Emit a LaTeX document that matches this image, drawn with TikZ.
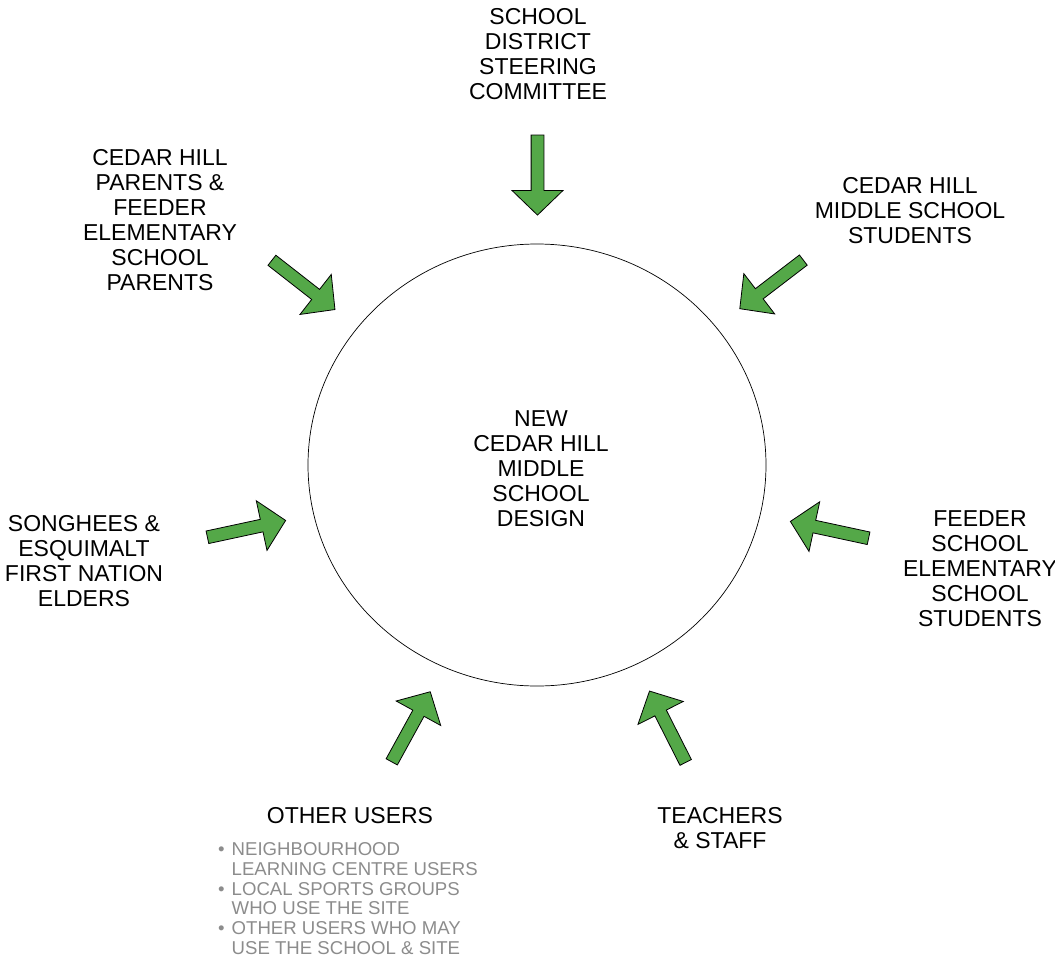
\documentclass[tikz,border=0pt]{standalone}
\usepackage{fontspec}
\setmainfont{Liberation Sans}
\usetikzlibrary{shapes.arrows,calc}
\definecolor{arrowgreen}{RGB}{84,168,72}
\definecolor{notegray}{RGB}{140,140,140}

\begin{document}
\begin{tikzpicture}[x=1pt,y=-1pt,
  group/.style={align=center, font=\fontsize{23}{25}\selectfont, inner sep=0pt},
  note/.style={font=\fontsize{18.6}{19.8}\selectfont, text=notegray, inner sep=0pt, anchor=west},
  push/.style={single arrow, draw=black, fill=arrowgreen, line width=0.8pt, minimum height=80pt,
    single arrow head extend=19pt, single arrow tip angle=92, inner xsep=0pt, inner ysep=6pt},
  ]
  \useasboundingbox (0,0) rectangle (1055,964);

  \draw[line width=0.7pt] (537,465) ellipse [x radius=229, y radius=221];
  \node[group] (design) at (541,469) {NEW\\CEDAR HILL\\MIDDLE\\SCHOOL\\DESIGN};

  \node[group] (steer)    at (538,54.5)  {SCHOOL\\DISTRICT\\STEERING\\COMMITTEE};
  \node[group] (parents)  at (160,220.5) {CEDAR HILL\\PARENTS \&\\FEEDER\\ELEMENTARY\\SCHOOL\\PARENTS};
  \node[group] (middle)   at (910,211)   {CEDAR HILL\\MIDDLE SCHOOL\\STUDENTS};
  \node[group] (elders)   at (84,561.5)  {SONGHEES \&\\ESQUIMALT\\FIRST NATION\\ELDERS};
  \node[group] (feeder)   at (980,569)   {FEEDER\\SCHOOL\\ELEMENTARY\\SCHOOL\\STUDENTS};
  \node[group] (others)   at (350,816)   {OTHER USERS};
  \node[group] (teachers) at (720,828.5) {TEACHERS\\\& STAFF};

  \node[note] (othersList) at (218,901) {%
    \begin{tabular}{@{}l@{\hspace{7pt}}l@{}}
      • & NEIGHBOURHOOD\\
        & LEARNING CENTRE USERS\\
      • & LOCAL SPORTS GROUPS\\
        & WHO USE THE SITE\\
      • & OTHER USERS WHO MAY\\
        & USE THE SCHOOL \& SITE
    \end{tabular}};

  % arrow ends, tail and tip
  \coordinate (steerTail)    at (537.5,132); \coordinate (steerTip)    at (537.5,212);
  \coordinate (parentsTail)  at (269,258);   \coordinate (parentsTip)  at (333,308);
  \coordinate (middleTail)   at (806,258);   \coordinate (middleTip)   at (742,307);
  \coordinate (eldersTail)   at (204,538);   \coordinate (eldersTip)   at (283,521);
  \coordinate (feederTail)   at (872,539);   \coordinate (feederTip)   at (793,522);
  \coordinate (othersTail)   at (390,765);   \coordinate (othersTip)   at (429,694);
  \coordinate (teachersTail) at (687,765);   \coordinate (teachersTip) at (651,694);

  \foreach \grp in {steer,parents,middle,elders,feeder,others,teachers}
    \path let \p1=($(\grp Tip)-(\grp Tail)$), \n1={atan2(\y1,\x1)} in
      node[push, rotate=\n1] (\grp Arrow) at ($(\grp Tail)!0.5!(\grp Tip)$) {};

\end{tikzpicture}
\end{document}
